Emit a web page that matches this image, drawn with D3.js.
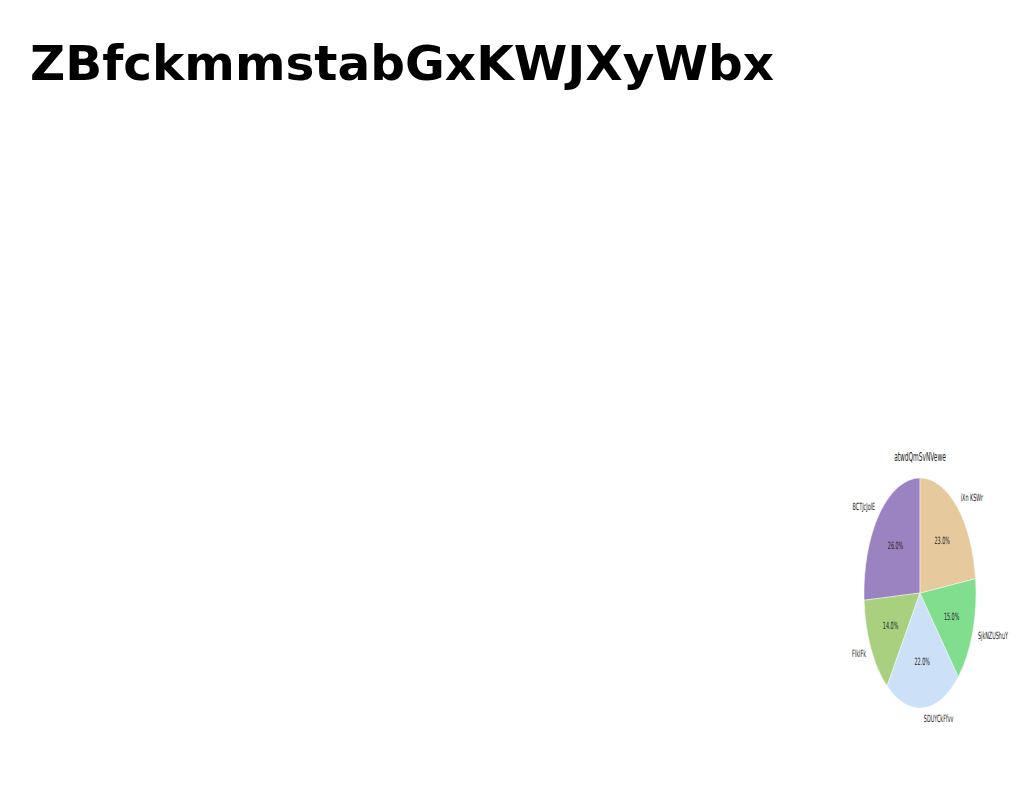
<!DOCTYPE html>
<html><head><meta charset="utf-8">
<script src="https://cdn.jsdelivr.net/npm/d3@7"></script>
<style>body{margin:0;background:#fff}</style>
</head><body>
<svg id="c" width="1024" height="788"></svg>
<script>
const chartTitle = "ZBfckmmstabGxKWJXyWbx";
const pieTitle = "atwdQmSvNVewe";
const categories = ["BCTJcJolE", "FlkIFk", "SDUYCkFfvv", "SjkNZUShuY", "iXn KSWr"];
const values = [26, 14, 22, 15, 23];
const colors = ["#9b83c1", "#a8d07f", "#cce0f7", "#82de8f", "#e6c99d"];

const svg = d3.select("#c");
svg.append("rect").attr("width",1024).attr("height",788).attr("fill","#fff");
svg.append("text").attr("x",30).attr("y",80)
  .attr("font-family","DejaVu Sans").attr("font-weight","bold").attr("font-size",48)
  .attr("textLength",744).attr("lengthAdjust","spacingAndGlyphs")
  .text(chartTitle);

const R = 115, sx = 0.487;
const g = svg.append("g").attr("transform",`translate(920,593) scale(${sx},1)`);
const total = d3.sum(values);
// matplotlib: startangle 90, counterclockwise
const pie = d3.pie().sort(null).value(d=>d)
  .startAngle(0).endAngle(-2*Math.PI);
const arcs = pie(values);
const arc = d3.arc().innerRadius(0).outerRadius(R);
g.selectAll("path").data(arcs).join("path")
  .attr("d",arc).attr("fill",(d,i)=>colors[i])
  .attr("stroke","#fff").attr("stroke-width",0.6);

arcs.forEach((d,i)=>{
  const mid = (d.startAngle+d.endAngle)/2; // d3 angle: 0 at top, clockwise
  const sx1 = Math.sin(mid), cy1 = -Math.cos(mid);
  g.append("text").attr("x",0.6*R*sx1).attr("y",0.6*R*cy1)
    .attr("text-anchor","middle").attr("dominant-baseline","central")
    .attr("font-family","DejaVu Sans").attr("font-size",10).attr("fill","#222")
    .text((values[i]/total*100).toFixed(1)+"%");
  g.append("text").attr("x",1.1*R*sx1).attr("y",1.1*R*cy1)
    .attr("text-anchor", sx1>=0 ? "start" : "end").attr("dominant-baseline","central")
    .attr("font-family","DejaVu Sans").attr("font-size",10).attr("fill","#222")
    .text(categories[i]);
});
g.append("text").attr("x",0).attr("y",-136)
  .attr("text-anchor","middle").attr("dominant-baseline","central")
  .attr("font-family","DejaVu Sans").attr("font-size",12).attr("fill","#222")
  .text(pieTitle);
</script>
</body></html>
